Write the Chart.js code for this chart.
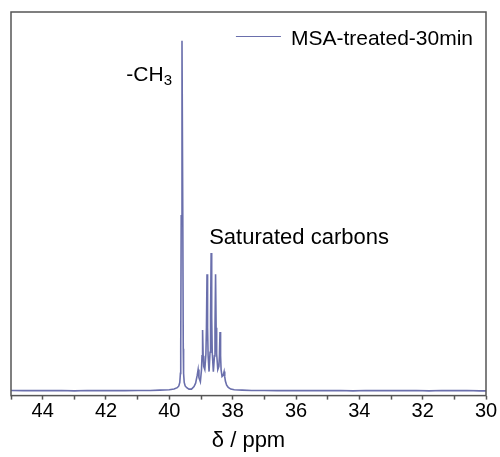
<!DOCTYPE html>
<html>
<head>
<meta charset="utf-8">
<script src="https://cdn.jsdelivr.net/npm/chart.js@4"></script>
<style>
  html, body { margin: 0; padding: 0; background: #fff; }
  #wrap { width: 500px; height: 457px; position: relative; }
</style>
</head>
<body>
<div id="wrap"><canvas id="nmrChart"></canvas></div>
<script>
// chemical shift (ppm) and intensity (a.u., CH3 peak = 100)
const shifts = [
  45.0, 44.6, 44.2, 43.8, 43.4, 43.0, 42.6, 42.2, 41.8, 41.4, 41.0, 40.6, 40.3, 40.0,
  39.85, 39.75, 39.70, 39.67, 39.65, 39.64, 39.625, 39.600, 39.575, 39.56,
  39.55, 39.53, 39.50, 39.45, 39.38, 39.30,
  39.22, 39.17, 39.12, 39.09, 39.065, 39.02,
  38.985, 38.968, 38.95, 38.932, 38.915, 38.88,
  38.845, 38.828, 38.81, 38.792, 38.775, 38.745,
  38.715, 38.698, 38.68, 38.662, 38.645, 38.61,
  38.575, 38.558, 38.54, 38.522, 38.505, 38.47,
  38.435, 38.418, 38.40, 38.382, 38.365, 38.335,
  38.30, 38.27, 38.25, 38.23, 38.19, 38.14, 38.06, 37.95,
  37.7, 37.4, 37.0, 36.6, 36.2, 35.8, 35.4, 35.0, 34.6, 34.2, 33.8, 33.4,
  33.0, 32.6, 32.2, 31.8, 31.4, 31.0, 30.6, 30.2, 30.0
];
const intensity = [
  0.1, 0.05, 0.1, 0.05, 0.1, 0.0, 0.1, 0.05, 0.1, 0.05, 0.1, 0.1, 0.2, 0.3,
  0.5, 0.9, 1.4, 2.4, 5, 12, 50, 100, 50, 12,
  5, 2.4, 1.4, 0.9, 0.5, 0.5,
  1.2, 2.2, 4.4, 6.1, 3.8, 2.6,
  6.0, 10, 17.4, 10, 7, 6.1,
  10.5, 18, 33.3, 18, 10, 5.5,
  11, 21, 39.4, 21, 11, 5.5,
  10, 18, 33.3, 18, 10.5, 6.1,
  7, 10, 16.8, 10, 6, 4.1,
  4.4, 5.5, 4.0, 2.8, 1.6, 1.0, 0.5, 0.3,
  0.2, 0.1, 0.1, 0.05, 0.1, 0.05, 0.1, 0.05, 0.1, 0.0, 0.1, 0.05,
  0.1, 0.05, 0.1, 0.0, 0.1, 0.05, 0.1, 0.0, 0.0
];
const seriesLabel = "MSA-treated-30min";
const axisTitle = "δ / ppm";

const FONT = '"Liberation Sans", Arial, sans-serif';
const LINE = "#6a6fac";
const FRAME = "#555555";

// box, in-plot legend and peak labels
const decorations = {
  id: "decorations",
  afterDraw(chart) {
    const { ctx, chartArea: a, scales: { x, y } } = chart;
    const ds = chart.data.datasets[0];
    ctx.save();
    ctx.strokeStyle = FRAME;
    ctx.lineWidth = 1.5;
    ctx.strokeRect(a.left, a.top, a.right - a.left, a.bottom - a.top);

    // legend
    ctx.fillStyle = "#000";
    ctx.font = "21px " + FONT;
    ctx.textAlign = "right";
    ctx.textBaseline = "alphabetic";
    const tx = a.right - 13, ty = a.top + 33;
    ctx.fillText(ds.label, tx, ty);
    const w = ctx.measureText(ds.label).width;
    ctx.strokeStyle = LINE;
    ctx.lineWidth = 1.2;
    ctx.beginPath();
    ctx.moveTo(tx - w - 10, ty - 8.5);
    ctx.lineTo(tx - w - 55, ty - 8.5);
    ctx.stroke();

    // -CH3 label
    const px = x.getPixelForValue(39.6) - 10;
    const py = y.getPixelForValue(88.4);
    ctx.font = "15px " + FONT;
    ctx.fillText("3", px, py + 4);
    const sw = ctx.measureText("3").width;
    ctx.font = "21px " + FONT;
    ctx.fillText("-CH", px - sw, py);

    // Saturated carbons
    ctx.textAlign = "left";
    ctx.font = "22px " + FONT;
    ctx.fillText("Saturated carbons", x.getPixelForValue(38.68) - 2, y.getPixelForValue(41.8));
    ctx.restore();
  }
};

new Chart(document.getElementById("nmrChart"), {
  type: "line",
  data: {
    datasets: [{
      label: seriesLabel,
      data: shifts.map((s, i) => ({ x: s, y: intensity[i] })),
      borderColor: LINE,
      borderWidth: 1.6,
      pointRadius: 0,
      tension: 0,
      fill: false
    }]
  },
  options: {
    responsive: true,
    maintainAspectRatio: false,
    animation: false,
    layout: { padding: { left: 11, right: 14, top: 12, bottom: 3 } },
    plugins: {
      legend: { display: false },
      tooltip: { enabled: false }
    },
    scales: {
      x: {
        type: "linear",
        reverse: true,
        min: 30,
        max: 45,
        border: { display: false },
        grid: {
          drawOnChartArea: false,
          tickLength: 4,
          tickWidth: 1.5,
          tickColor: FRAME
        },
        ticks: {
          stepSize: 1,
          autoSkip: false,
          maxRotation: 0,
          padding: 0,
          color: "#000",
          font: { family: FONT, size: 20 },
          callback: v => (v % 2 === 0 ? String(v) : "")
        },
        title: {
          display: true,
          text: axisTitle,
          color: "#000",
          font: { family: FONT, size: 22 },
          padding: { top: 4, bottom: 0 }
        }
      },
      y: {
        display: false,
        min: -1.36,
        max: 108.2
      }
    }
  },
  plugins: [decorations]
});
</script>
</body>
</html>
